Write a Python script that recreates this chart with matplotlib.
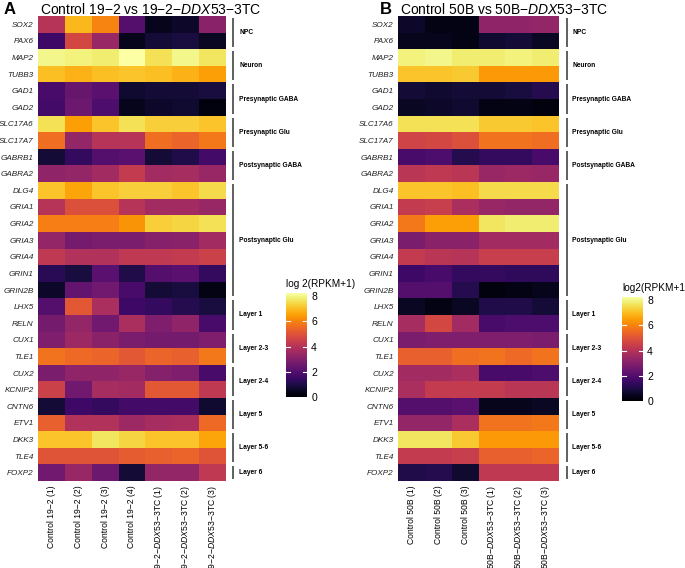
import numpy as np
import matplotlib
matplotlib.use("Agg")
import matplotlib.pyplot as plt
from matplotlib.colors import Normalize

plt.rcParams['font.family'] = ['Liberation Sans', 'DejaVu Sans']
plt.rcParams['mathtext.fontset'] = 'custom'
plt.rcParams['mathtext.it'] = 'Liberation Sans:italic'
plt.rcParams['mathtext.rm'] = 'Liberation Sans'

genes = ["SOX2", "PAX6", "MAP2", "TUBB3", "GAD1", "GAD2", "SLC17A6", "SLC17A7",
         "GABRB1", "GABRA2", "DLG4", "GRIA1", "GRIA2", "GRIA3", "GRIA4", "GRIN1",
         "GRIN2B", "LHX5", "RELN", "CUX1", "TLE1", "CUX2", "KCNIP2", "CNTN6",
         "ETV1", "DKK3", "TLE4", "FOXP2"]

groups = ["NPC", "Neuron", "Presynaptic GABA", "Presynaptic Glu", "Postsynaptic GABA",
          "Postsynaptic Glu", "Layer 1", "Layer 2-3", "Layer 2-4", "Layer 5",
          "Layer 5-6", "Layer 6"]
group_sizes = [2, 2, 2, 2, 2, 7, 2, 2, 2, 2, 2, 1]

samples_a = ["Control 19\u22122 (1)", "Control 19\u22122 (2)", "Control 19\u22122 (3)",
             "Control 19\u22122 (4)",
             "19\u22122\u2212$\\mathit{DDX53}$\u22123TC (1)",
             "19\u22122\u2212$\\mathit{DDX53}$\u22123TC (2)",
             "19\u22122\u2212$\\mathit{DDX53}$\u22123TC (3)"]
samples_b = ["Control 50B (1)", "Control 50B (2)", "Control 50B (3)",
             "50B\u2212$\\mathit{DDX53}$\u22123TC (1)",
             "50B\u2212$\\mathit{DDX53}$\u22123TC (2)",
             "50B\u2212$\\mathit{DDX53}$\u22123TC (3)"]

values_a = [
    [4.0, 6.9, 6.0, 2.0, 0.4, 0.6, 3.1],   # SOX2
    [1.6, 4.7, 3.4, 0.4, 0.8, 0.9, 0.5],   # PAX6
    [8.0, 7.9, 7.8, 8.25, 7.6, 8.0, 7.7],  # MAP2
    [7.0, 6.8, 7.0, 7.1, 7.0, 6.8, 6.5],   # TUBB3
    [1.8, 2.4, 2.1, 0.7, 0.8, 0.8, 0.9],   # GAD1
    [1.7, 2.5, 1.9, 0.4, 0.6, 0.7, 0.2],   # GAD2
    [7.6, 6.5, 7.1, 7.6, 7.3, 7.3, 7.1],   # SLC17A6
    [5.6, 3.3, 4.0, 4.0, 5.6, 5.4, 5.8],   # SLC17A7
    [0.8, 1.4, 2.0, 2.1, 0.8, 1.0, 1.7],   # GABRB1
    [3.2, 3.3, 3.6, 4.3, 3.6, 3.7, 3.4],   # GABRA2
    [7.1, 6.6, 7.1, 7.3, 7.3, 7.1, 7.5],   # DLG4
    [4.0, 4.9, 4.9, 4.0, 3.6, 3.6, 3.4],   # GRIA1
    [5.9, 5.9, 5.9, 6.3, 7.3, 7.4, 7.6],   # GRIA2
    [3.3, 2.7, 2.8, 2.8, 3.0, 3.1, 3.6],   # GRIA3
    [4.2, 3.9, 3.9, 4.2, 4.2, 4.3, 4.5],   # GRIA4
    [1.2, 0.9, 2.1, 1.0, 2.0, 2.1, 1.4],   # GRIN1
    [0.6, 2.3, 2.6, 1.8, 0.8, 0.9, 0.3],   # GRIN2B
    [2.0, 5.1, 3.8, 1.6, 1.4, 1.1, 0.9],   # LHX5
    [2.7, 3.3, 2.6, 3.8, 2.9, 3.2, 1.8],   # RELN
    [2.9, 3.5, 3.1, 2.8, 2.7, 2.7, 2.9],   # CUX1
    [5.7, 5.5, 5.4, 5.1, 5.4, 5.3, 5.8],   # TLE1
    [2.8, 3.2, 3.2, 3.4, 3.0, 2.9, 1.8],   # CUX2
    [4.5, 2.6, 3.7, 3.6, 5.1, 5.1, 4.2],   # KCNIP2
    [0.8, 1.6, 1.4, 1.7, 1.7, 1.7, 0.7],   # CNTN6
    [5.3, 3.9, 3.9, 3.5, 3.7, 3.8, 5.5],   # ETV1
    [7.1, 7.1, 7.7, 7.4, 7.1, 7.1, 6.6],   # DKK3
    [5.0, 5.0, 5.0, 5.2, 5.3, 5.4, 5.0],   # TLE4
    [2.6, 3.4, 2.5, 0.8, 3.3, 3.3, 4.2],   # FOXP2
]

values_b = [
    [0.6, 0.3, 0.3, 3.2, 3.2, 3.3],   # SOX2
    [0.4, 0.4, 0.3, 0.7, 0.8, 0.5],   # PAX6
    [7.9, 8.0, 7.8, 7.8, 7.9, 7.8],   # MAP2
    [7.1, 7.1, 7.2, 6.4, 6.4, 6.4],   # TUBB3
    [0.8, 0.7, 0.8, 0.8, 0.9, 1.1],   # GAD1
    [0.5, 0.6, 0.7, 0.3, 0.3, 0.2],   # GAD2
    [7.6, 7.6, 7.6, 7.2, 7.2, 7.1],   # SLC17A6
    [4.6, 4.7, 4.9, 5.7, 5.7, 5.6],   # SLC17A7
    [1.8, 1.9, 1.1, 1.4, 1.4, 1.8],   # GABRB1
    [4.1, 4.2, 4.1, 3.4, 3.5, 3.4],   # GABRA2
    [7.1, 7.1, 7.0, 7.5, 7.5, 7.5],   # DLG4
    [4.3, 4.4, 3.8, 3.4, 3.3, 3.3],   # GRIA1
    [5.8, 6.5, 6.5, 7.7, 7.8, 7.8],   # GRIA2
    [2.8, 3.1, 3.1, 3.6, 3.6, 3.6],   # GRIA3
    [4.3, 4.1, 4.0, 4.4, 4.4, 4.4],   # GRIA4
    [1.6, 1.8, 1.4, 1.4, 1.3, 1.3],   # GRIN1
    [2.0, 2.0, 1.1, 0.2, 0.3, 0.4],   # GRIN2B
    [0.5, 0.3, 0.5, 1.0, 1.0, 0.8],   # LHX5
    [3.7, 4.7, 3.6, 1.8, 1.9, 1.9],   # RELN
    [2.8, 2.9, 2.9, 2.9, 2.9, 2.8],   # CUX1
    [5.3, 5.3, 5.6, 5.7, 5.5, 5.7],   # TLE1
    [3.6, 3.6, 3.8, 1.8, 1.8, 1.9],   # CUX2
    [3.8, 4.3, 4.3, 4.3, 4.1, 4.1],   # KCNIP2
    [2.0, 2.0, 2.1, 0.4, 0.4, 0.5],   # CNTN6
    [3.3, 3.3, 3.8, 5.7, 5.7, 5.8],   # ETV1
    [7.7, 7.7, 7.2, 6.4, 6.4, 6.4],   # DKK3
    [4.3, 4.3, 4.4, 5.3, 5.3, 5.4],   # TLE4
    [1.0, 1.1, 0.7, 4.2, 4.2, 4.2],   # FOXP2
]

cbar_ticks = [0, 2, 4, 6, 8]

W, H = 685, 568
VMAX = 8.25
fig = plt.figure(figsize=(W / 100, H / 100), dpi=100)
fig.patch.set_facecolor("white")
cmap = plt.get_cmap("inferno")
norm = Normalize(vmin=0, vmax=VMAX)


def px(x0, y0, x1, y1):
    return [x0 / W, 1 - y1 / H, (x1 - x0) / W, (y1 - y0) / H]


def draw_panel(rect, data, samples, letter, title, line_x, label_x, letter_x, title_x):
    ax = fig.add_axes(px(*rect))
    arr = np.array(data)
    nrow, ncol = arr.shape
    ax.pcolormesh(np.arange(ncol + 1), np.arange(nrow + 1), arr, cmap=cmap, norm=norm)
    ax.set_xlim(0, ncol)
    ax.set_ylim(nrow, 0)
    ax.set_yticks(np.arange(nrow) + 0.5)
    ax.set_yticklabels(genes, fontsize=5.9, style="italic", color="#222222")
    ax.set_xticks(np.arange(ncol) + 0.5)
    ax.set_xticklabels(samples, rotation=90, fontsize=6.2, va="top", ha="center")
    ax.tick_params(length=0, pad=3)
    for s in ax.spines.values():
        s.set_visible(False)
    start = 0
    for g, n in zip(groups, group_sizes):
        ax.plot([line_x, line_x], [start + 0.12, start + n - 0.12], color="#444444",
                lw=1.2, clip_on=False, solid_capstyle="butt")
        ax.text(label_x, start + n / 2, g, fontsize=4.8, fontweight="bold",
                va="center", ha="left", clip_on=False)
        start += n
    fig.text(letter_x / W, 1 - 10 / H, letter, fontsize=12, fontweight="bold",
             va="center", ha="left")
    fig.text(title_x / W, 1 - 10 / H, title, fontsize=10, va="center", ha="left")
    return ax


def draw_cbar(rect, title):
    cax = fig.add_axes(px(*rect))
    grad = np.linspace(0, VMAX, 256).reshape(-1, 1)
    cax.imshow(grad, aspect="auto", cmap=cmap, norm=norm, origin="lower",
               extent=[0, 1, 0, VMAX])
    cax.set_xlim(0, 1)
    cax.set_ylim(0, VMAX)
    cax.set_xticks([])
    cax.yaxis.tick_right()
    cax.set_yticks(cbar_ticks)
    cax.set_yticklabels([str(t) for t in cbar_ticks], fontsize=7.5)
    cax.tick_params(length=0, pad=3)
    for t in cbar_ticks[1:-1]:
        cax.plot([0, 0.2], [t, t], color="white", lw=0.8)
        cax.plot([0.8, 1], [t, t], color="white", lw=0.8)
    for s in cax.spines.values():
        s.set_visible(False)
    cax.text(0.0, VMAX + 0.3, title, fontsize=7.2, ha="left", va="bottom",
             clip_on=False)


draw_panel((38, 16, 226, 481), values_a, samples_a, "A",
           "Control 19\u22122 vs 19\u22122\u2212$\\mathit{DDX53}$\u22123TC",
           7.25, 7.5, 4, 40)
draw_panel((398, 16, 559, 481), values_b, samples_b, "B",
           "Control 50B vs 50B\u2212$\\mathit{DDX53}$\u22123TC",
           6.3, 6.5, 380, 400)

draw_cbar((286, 293, 307, 397), "log 2(RPKM+1)")
draw_cbar((622, 297, 643, 401), "log2(RPKM+1)")

fig.savefig("out.png", dpi=100, facecolor="white")
